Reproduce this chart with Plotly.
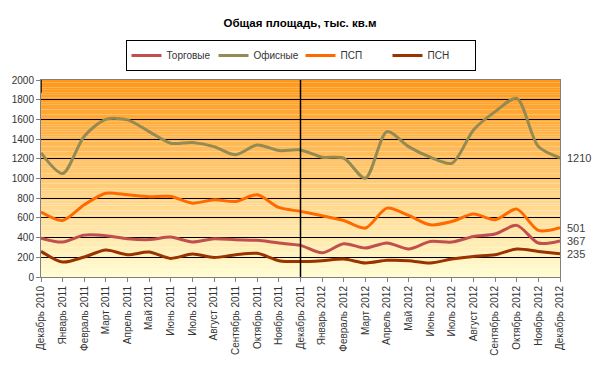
import plotly.graph_objects as go

months = ["Декабрь 2010", "Январь 2011", "Февраль 2011", "Март 2011", "Апрель 2011", "Май 2011",
          "Июнь 2011", "Июль 2011", "Август 2011", "Сентябрь 2011", "Октябрь 2011", "Ноябрь 2011",
          "Декабрь 2011", "Январь 2012", "Февраль 2012", "Март 2012", "Апрель 2012", "Май 2012",
          "Июнь 2012", "Июль 2012", "Август 2012", "Сентябрь 2012", "Октябрь 2012", "Ноябрь 2012",
          "Декабрь 2012"]

torgovye = [395, 355, 425, 420, 389, 380, 405, 355, 389, 378, 372, 345, 321,
            245, 338, 294, 345, 285, 361, 355, 412, 436, 524, 345, 367]
ofisnye = [1260, 1050, 1430, 1600, 1595, 1476, 1358, 1365, 1324, 1240, 1341, 1284, 1290,
           1216, 1206, 1003, 1476, 1324, 1216, 1155, 1493, 1679, 1814, 1324, 1210]
psp = [659, 574, 733, 851, 834, 814, 818, 750, 784, 767, 834, 706, 666,
       622, 574, 497, 699, 625, 530, 564, 639, 581, 689, 473, 501]
psn = [260, 152, 203, 274, 226, 253, 189, 233, 199, 226, 240, 166, 157,
       166, 182, 142, 169, 166, 142, 182, 209, 226, 284, 260, 235]

series = [
    ("Торговые", torgovye, "#C0504D"),
    ("Офисные", ofisnye, "#948A54"),
    ("ПСП", psp, "#FF6A00"),
    ("ПСН", psn, "#993300"),
]

fig = go.Figure()
for name, vals, col in series:
    fig.add_trace(go.Scatter(x=months, y=vals, name=name, mode="lines",
                             line=dict(color=col, width=3, shape="spline", smoothing=0.8)))

# gradient background
shapes = []
n = 80
top = (255, 152, 24)
bot = (255, 252, 208)
for i in range(n):
    t = i / (n - 1)
    c = tuple(round(top[k] + (bot[k] - top[k]) * t) for k in range(3))
    y1 = 1 - i / n
    y0 = 1 - (i + 1) / n
    shapes.append(dict(type="rect", xref="x domain", yref="y domain", x0=0, x1=1, y0=y0, y1=y1,
                       fillcolor="rgb(%d,%d,%d)" % c, line=dict(width=0), layer="below"))
shapes.append(dict(type="line", xref="x", yref="y domain", x0="Декабрь 2011", x1="Декабрь 2011",
                   y0=0, y1=1, line=dict(color="black", width=1.5), layer="above"))
shapes.append(dict(type="line", xref="x", yref="y", x0="Декабрь 2010", x1="Декабрь 2010",
                   y0=1870, y1=2000, line=dict(color="black", width=1.5), layer="above"))

annotations = []
for name, vals, col in series:
    annotations.append(dict(x=months[-1], y=vals[-1], text=str(vals[-1]), showarrow=False,
                            xanchor="left", xshift=5, font=dict(size=11, color="#404040")))

fig.update_layout(
    width=600, height=368,
    margin=dict(l=39, r=40, t=80, b=91),
    paper_bgcolor="white",
    plot_bgcolor="white",
    font=dict(family="Liberation Sans, Arial, sans-serif", size=10, color="#333333"),
    title=dict(text="<b>Общая площадь, тыс. кв.м</b>", x=0.5, xanchor="center", y=0.937, yanchor="middle",
               font=dict(size=11.5, color="black")),
    legend=dict(orientation="h", x=0.5, xanchor="center", y=1.124, yanchor="middle",
                bordercolor="black", borderwidth=1, bgcolor="white",
                font=dict(size=10, color="#333333"), entrywidth=42, itemwidth=30),
    shapes=shapes,
    annotations=annotations,
    showlegend=True,
)
fig.update_xaxes(type="category", range=[0, 24], tickangle=-90, ticks="outside", ticklen=4,
                 tickcolor="#808080", showline=True, linecolor="#808080", showgrid=False,
                 mirror=True, tickfont=dict(size=10, color="#333333"))
fig.update_yaxes(range=[0, 2000], dtick=200, showgrid=True, gridcolor="black", gridwidth=1,
                 ticks="outside", ticklen=4, tickcolor="#808080", showline=True, linecolor="#808080",
                 mirror=True, zeroline=False, tickfont=dict(size=10, color="#333333"))

fig.write_html("out.html", config={"displayModeBar": False},
               post_script="document.body.style.margin='0';")
